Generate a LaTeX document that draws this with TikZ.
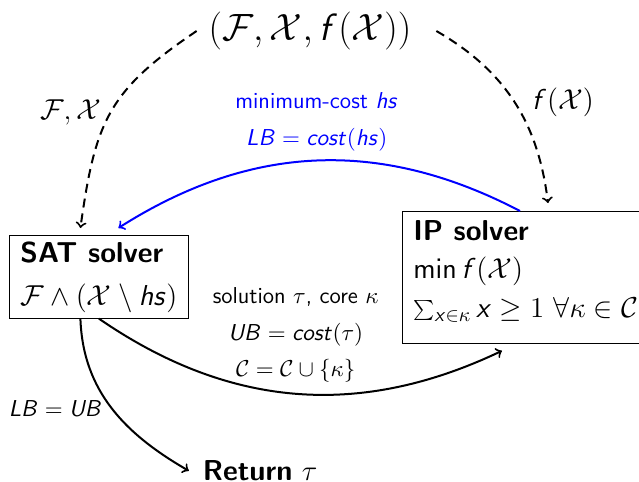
\RequirePackage{fix-cm}
\documentclass[tikz,border=0pt]{standalone}
\usetikzlibrary{positioning}

% sans text and sans italic math letters
\renewcommand{\familydefault}{\sfdefault}
\DeclareSymbolFont{sfletters}{OT1}{cmss}{m}{sl}
\DeclareSymbolFont{sfoperators}{OT1}{cmss}{m}{n}
\makeatletter
\renewcommand{\operator@font}{\mathgroup\symsfoperators}
\makeatother
\newcount\lettercode
\lettercode=65
\loop
  \mathcode\lettercode=\numexpr "7000+"100*\symsfletters+\lettercode\relax
  \advance\lettercode by 1
  \ifnum\lettercode=91 \lettercode=97 \fi
\ifnum\lettercode<123 \repeat

\begin{document}
\begin{tikzpicture}[x=0.5pt, y=0.5pt,
            solver/.style={draw, anchor=north west, align=left, inner xsep=5.5pt, font=\fontsize{14.4}{17.5}\selectfont},
            biglabel/.style={font=\fontsize{14.4}{17}\selectfont},
            smalllabel/.style={font=\fontsize{11.5}{14}\selectfont, align=center},
            arrow/.style={->, line width=1pt},
            feed/.style={->, line width=1pt, dash pattern=on 4.5pt off 3pt},
            hsarrow/.style={->, line width=1pt, blue}
        ]
            \useasboundingbox (0,0) rectangle (639,-482);

            \node [font=\fontsize{19}{22}\selectfont] (problem) at (310,-31) {$(\mathcal{F},\mathcal{X},f(\mathcal{X}))$};
            \node [solver, inner ysep=3pt, minimum height=41pt, minimum width=89.5pt] (sat) at (9,-235) {\textbf{SAT solver}\\[4pt]$\mathcal{F}\wedge(\mathcal{X}\setminus hs)$};
            \node [solver, inner ysep=4.5pt] (ip) at (402,-211) {\textbf{IP solver}\\[1.75pt]$\min f(\mathcal{X})$\\[1.75pt]$\sum_{x\in\kappa} x\geq 1\ \forall\kappa\in\mathcal{C}$\rule[-8.5pt]{0pt}{1pt}};
            \node [biglabel, below right=67.5pt and 3.5pt of sat] (ret) {\textbf{Return} $\tau$};

            \draw [feed] ([xshift=-2.5pt]problem.west) to [out=214, in=82, looseness=1.2] node[biglabel, pos=0.5, left=1pt] {$\mathcal{F},\mathcal{X}$} ([xshift=-9.25pt, yshift=3.5pt]sat.north);
            \draw [feed] ([xshift=9pt]problem.east) to [out=-30, in=97] node[biglabel, pos=0.5, right=5pt] {$f(\mathcal{X})$} ([xshift=73pt, yshift=4pt]ip.north west);
            \draw [hsarrow] ([xshift=59pt]ip.north west) to [bend right=30] node[smalllabel, midway, above=1pt] {minimum-cost $hs$\\[4.5pt]$LB = cost(hs)$} ([xshift=9.75pt, yshift=3.5pt]sat.north);
            \draw [arrow] (sat.south) to [bend right=30] node[smalllabel, midway, above=2pt] {solution $\tau$, core $\kappa$\\[4.5pt]$UB = cost(\tau)$\\[4pt]$\mathcal{C} = \mathcal{C}\cup\{\kappa\}$} ([xshift=50pt, yshift=-3.5pt]ip.south west);
            \draw [arrow] ([xshift=-9.25pt]sat.south) to [out=-88, in=150] node[smalllabel, pos=0.5, left=1pt] {$LB = UB$} ([xshift=-3.5pt]ret.west);

        \end{tikzpicture}
\end{document}
